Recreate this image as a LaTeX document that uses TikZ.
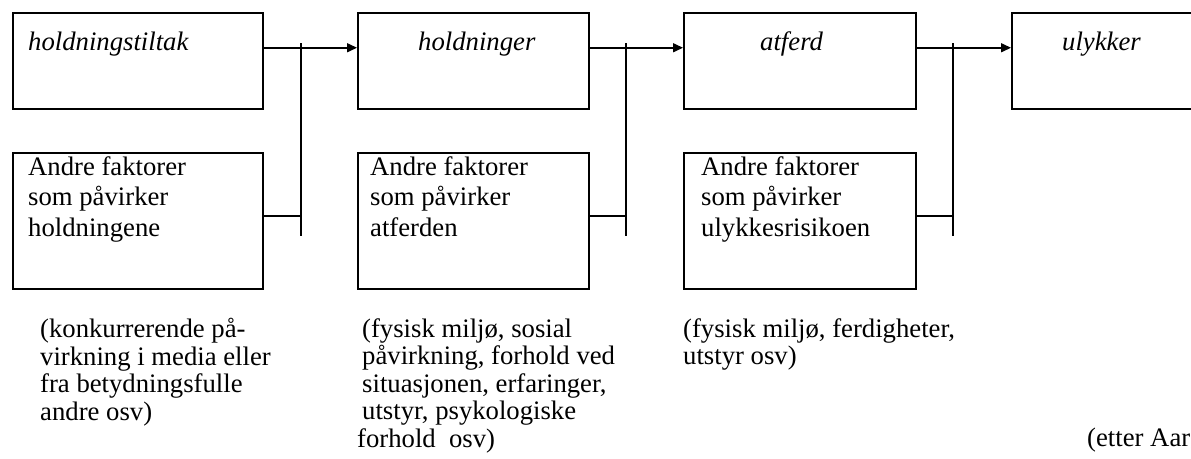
\documentclass[tikz,border=0pt]{standalone}
\usepackage{fontspec}
\setmainfont{Liberation Serif}
\usetikzlibrary{arrows.meta}
\begin{document}
\begin{tikzpicture}[x=1pt,y=-1pt,
  box/.style={draw,line width=1.5pt,rectangle,inner sep=0pt,anchor=north west},
  lbl/.style={inner sep=0pt,anchor=base west,font=\fontsize{26.7}{30}\selectfont\itshape},
  btxt/.style={inner sep=0pt,anchor=north west,align=left,font=\fontsize{26.7}{30.5}\selectfont},
  note/.style={inner sep=0pt,anchor=north west,align=left,font=\fontsize{26.7}{27.5}\selectfont},
  conn/.style={line width=1.5pt},
  arr/.style={conn,-{Triangle[length=10pt,width=9pt]}}]
\useasboundingbox (0,0) rectangle (1191,458);
\clip (0,0) rectangle (1191,458);
% top row
\node[box,minimum width=250pt,minimum height=96pt] (t1) at (12,12) {};
\node[box,minimum width=231pt,minimum height=96pt] (t2) at (357,12) {};
\node[box,minimum width=232pt,minimum height=96pt] (t3) at (683,12) {};
\node[box,minimum width=231pt,minimum height=96pt] (t4) at (1011,12) {};
\node[lbl] (t1l) at (28,50) {holdningstiltak};
\node[lbl] (t2l) at (418,50) {holdninger};
\node[lbl] (t3l) at (760,50) {atferd};
\node[lbl] (t4l) at (1062,50) {ulykker};
% bottom row
\node[box,minimum width=250pt,minimum height=136pt] (b1) at (12,152) {};
\node[box,minimum width=231pt,minimum height=136pt] (b2) at (357,152) {};
\node[box,minimum width=232pt,minimum height=136pt] (b3) at (683,152) {};
\node[btxt] (b1l) at (28,156) {Andre faktorer\\som påvirker\\holdningene};
\node[btxt] (b2l) at (370,156) {Andre faktorer\\som påvirker\\atferden};
\node[btxt] (b3l) at (701,156) {Andre faktorer\\som påvirker\\ulykkesrisikoen};
% arrows
\draw[arr] ([yshift=13pt]t1.east) -- ([yshift=13pt]t2.west);
\draw[arr] ([yshift=13pt]t2.east) -- ([yshift=13pt]t3.west);
\draw[arr] ([yshift=13pt]t3.east) -- ([yshift=13pt]t4.west);
% junctions
\coordinate (j1a) at (301,43); \coordinate (j1b) at (301,236);
\coordinate (j2a) at (626,43); \coordinate (j2b) at (626,236);
\coordinate (j3a) at (953,43); \coordinate (j3b) at (953,236);
\draw[conn] (j1a) -- (j1b);
\draw[conn] (j2a) -- (j2b);
\draw[conn] (j3a) -- (j3b);
\draw[conn] ([yshift=5pt]b1.east) -- ([yshift=5pt]b1.east -| j1a);
\draw[conn] ([yshift=5pt]b2.east) -- ([yshift=5pt]b2.east -| j2a);
\draw[conn] ([yshift=5pt]b3.east) -- ([yshift=5pt]b3.east -| j3a);
% notes
\node[note] (n1) at (40,318) {(konkurrerende på-\\virkning i media eller\\fra betydningsfulle\\andre osv)};
\node[note] (n2) at (362,318) {(fysisk miljø, sosial\\påvirkning, forhold ved\\situasjonen, erfaringer,\\utstyr, psykologiske\\\hspace*{-5pt}forhold\ \ osv)};
\node[note] (n3) at (683,318) {(fysisk miljø, ferdigheter,\\utstyr osv)};
\node[inner sep=0pt,anchor=base west,font=\fontsize{26.7}{30}\selectfont] (src) at (1087,446) {(etter Aarø};
\end{tikzpicture}
\end{document}
